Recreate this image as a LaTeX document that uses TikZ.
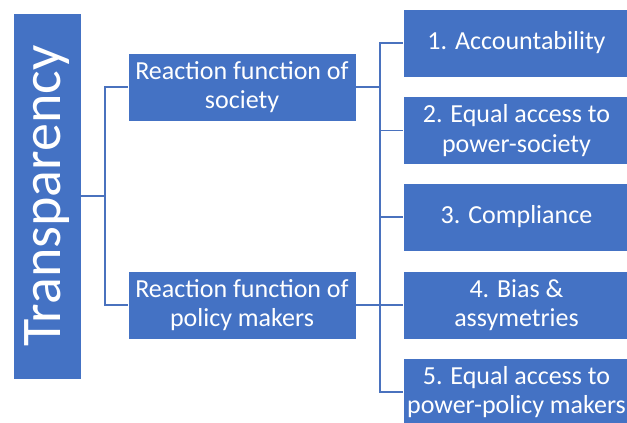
\documentclass[tikz,border=0pt]{standalone}
\usepackage{fontspec}
\setmainfont{Carlito}
\definecolor{boxblue}{HTML}{4472C4}
\definecolor{linkblue}{HTML}{4A72BE}
\begin{document}
\begin{tikzpicture}[x=1pt,y=-1pt,
  box/.style={fill=boxblue, draw=white, line width=0.8pt, text=white,
    align=center, inner sep=0pt, font=\fontsize{26}{29.5}\selectfont},
  midbox/.style={box, minimum width=228pt, minimum height=68pt},
  leafbox/.style={box, minimum width=227pt, minimum height=68pt},
  link/.style={draw=linkblue, line width=1.3pt}]
\useasboundingbox (0,0) rectangle (627,423);
\clip (0,0) rectangle (627,423);

% root
\node[box, rotate=90, minimum width=366pt, minimum height=68pt,
  font=\fontsize{56}{60}\selectfont] (root) at (47,196) {Transparency};

% second level
\node[midbox] (soc) at (242,87) {Reaction function of\\society};
\node[midbox] (pol) at (242,305) {Reaction function of\\policy makers};

% leaves
\node[leafbox] (r1) at (516.5,43) {1. Accountability};
\node[leafbox] (r2) at (516.5,130.5) {2. Equal access to\\power-society};
\node[leafbox] (r3) at (516.5,217) {3. Compliance};
\node[leafbox] (r4) at (516.5,305) {4. Bias \&\\assymetries};
\node[leafbox] (r5) at (516.5,392) {5. Equal access to\\power-policy makers};

% junctions
\coordinate (j1) at (105,196);
\coordinate (ttop) at (380,43);
\coordinate (tbot) at (380,392);

% connectors
\draw[link] (root.south) -- (j1);
\draw[link] (soc.west) -| (j1) |- (pol.west);
\draw[link] (soc.east) -- (soc.east -| ttop);
\draw[link] (r1.west) -- (ttop) -- (tbot) -- (r5.west);
\draw[link] (r2.west) -- (r2.west -| ttop);
\draw[link] (r3.west) -- (r3.west -| ttop);
\draw[link] (pol.east) -- (r4.west);
\end{tikzpicture}
\end{document}
